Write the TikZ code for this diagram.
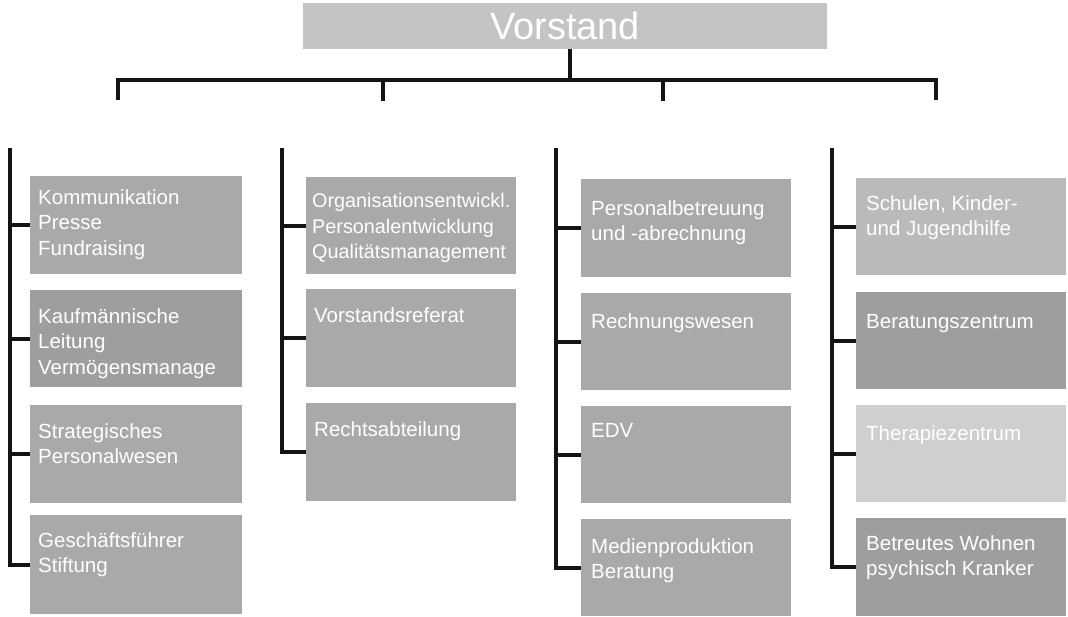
\documentclass[tikz,border=0pt]{standalone}
\usepackage{fontspec}
\setmainfont{Liberation Sans}
\usepackage{tikz}
\usetikzlibrary{positioning, calc}
\definecolor{boardgray}{HTML}{C4C4C4}
\definecolor{unitgray}{HTML}{A9A9A9}
\definecolor{darkunit}{HTML}{9E9E9E}
\definecolor{lightunit}{HTML}{BABABA}
\definecolor{paleunit}{HTML}{CFCFCF}
\definecolor{linkblack}{HTML}{141414}

\begin{document}
\begin{tikzpicture}[
  x=1pt, y=-1pt,
  unit/.style={rectangle, fill=unitgray, minimum width=210pt, minimum height=97pt, inner sep=0pt, anchor=north west},
  unittext/.style={anchor=north west, inner sep=0pt, align=left, text=white, font=\fontsize{20.5}{25.5}\selectfont},
  link/.style={draw=linkblack, line width=3.6pt, line join=miter}
]
  \useasboundingbox[fill=white] (0,0) rectangle (1068,616);

  % board
  \node[rectangle, fill=boardgray, minimum width=524pt, minimum height=46pt, inner sep=0pt,
        text=white, font=\fontsize{38}{42}\selectfont] (vorstand) at (565,26) {Vorstand};

  \coordinate (stem) at (570,80);
  \coordinate (d1) at (118,100);
  \coordinate (d2) at (383,101);
  \coordinate (d3) at (663,101);
  \coordinate (d4) at (936,100);
  \draw[link] (stem |- vorstand.south) -- (stem);
  \draw[link] (d1) |- (d4 |- stem) -- (d4);
  \draw[link] (d2) -- (d2 |- stem);
  \draw[link] (d3) -- (d3 |- stem);

  % column 1
  \coordinate (c1top) at (10,148);
  \node[unit, minimum width=212pt, minimum height=98pt] (kom) at (30,176) {};
  \node[unit, minimum width=212pt, fill=darkunit] (kfm) at (30,290) {};
  \node[unit, minimum width=212pt, minimum height=98pt] (strat) at (30,405) {};
  \node[unit, minimum width=212pt, minimum height=99pt] (gf) at (30,515) {};
  \node[unittext] (kom-t) at ([shift={(8,13)}]kom.north west) {Kommunikation\\Presse\\Fundraising};
  \node[unittext] (kfm-t) at ([shift={(8,18)}]kfm.north west) {Kaufmännische\\Leitung\\Vermögensmanage};
  \node[unittext] (strat-t) at ([shift={(8,18)}]strat.north west) {Strategisches\\Personalwesen};
  \node[unittext] (gf-t) at ([shift={(8,17)}]gf.north west) {Geschäftsführer\\Stiftung};

  % column 2
  \coordinate (c2top) at (282,148);
  \node[unit] (oe) at (306,177) {};
  \node[unit, minimum height=98pt] (ref) at (306,289) {};
  \node[unit, minimum height=98pt] (recht) at (306,403) {};
  \node[unittext, font=\fontsize{19.8}{25.5}\selectfont] (oe-t) at ([shift={(6,16)}]oe.north west) {Organisationsentwickl.\\Personalentwicklung\\Qualitätsmanagement};
  \node[unittext] (ref-t) at ([shift={(8,18)}]ref.north west) {Vorstandsreferat};
  \node[unittext] (recht-t) at ([shift={(8,18)}]recht.north west) {Rechtsabteilung};

  % column 3
  \coordinate (c3top) at (556,148);
  \node[unit, minimum height=98pt] (pers) at (581,179) {};
  \node[unit] (rw) at (581,293) {};
  \node[unit] (edv) at (581,406) {};
  \node[unit] (med) at (581,519) {};
  \node[unittext] (pers-t) at ([shift={(10,21)}]pers.north west) {Personalbetreuung\\und -abrechnung};
  \node[unittext] (rw-t) at ([shift={(10,20)}]rw.north west) {Rechnungswesen};
  \node[unittext] (edv-t) at ([shift={(10,17)}]edv.north west) {EDV};
  \node[unittext] (med-t) at ([shift={(10,19)}]med.north west) {Medienproduktion\\Beratung};

  % column 4
  \coordinate (c4top) at (832,148);
  \node[unit, fill=lightunit] (schule) at (856,178) {};
  \node[unit, fill=darkunit] (ber) at (856,292) {};
  \node[unit, fill=paleunit] (ther) at (856,405) {};
  \node[unit, fill=darkunit, minimum height=98pt] (bw) at (856,518) {};
  \node[unittext] (schule-t) at ([shift={(10,17)}]schule.north west) {Schulen, Kinder-\\und Jugendhilfe};
  \node[unittext] (ber-t) at ([shift={(10,22)}]ber.north west) {Beratungszentrum};
  \node[unittext] (ther-t) at ([shift={(10,20)}]ther.north west) {Therapiezentrum};
  \node[unittext] (bw-t) at ([shift={(10,17)}]bw.north west) {Betreutes Wohnen\\psychisch Kranker};

  % column lines
  \draw[link] (c1top) |- (gf.west);
  \draw[link] (c1top |- kom.west) -- (kom.west);
  \draw[link] (c1top |- kfm.west) -- (kfm.west);
  \draw[link] (c1top |- strat.west) -- (strat.west);
  \draw[link] (c2top) |- (recht.west);
  \draw[link] (c2top |- oe.west) -- (oe.west);
  \draw[link] (c2top |- ref.west) -- (ref.west);
  \draw[link] (c3top) |- (med.west);
  \draw[link] (c3top |- pers.west) -- (pers.west);
  \draw[link] (c3top |- rw.west) -- (rw.west);
  \draw[link] (c3top |- edv.west) -- (edv.west);
  \draw[link] (c4top) |- (bw.west);
  \draw[link] (c4top |- schule.west) -- (schule.west);
  \draw[link] (c4top |- ber.west) -- (ber.west);
  \draw[link] (c4top |- ther.west) -- (ther.west);
\end{tikzpicture}
\end{document}
